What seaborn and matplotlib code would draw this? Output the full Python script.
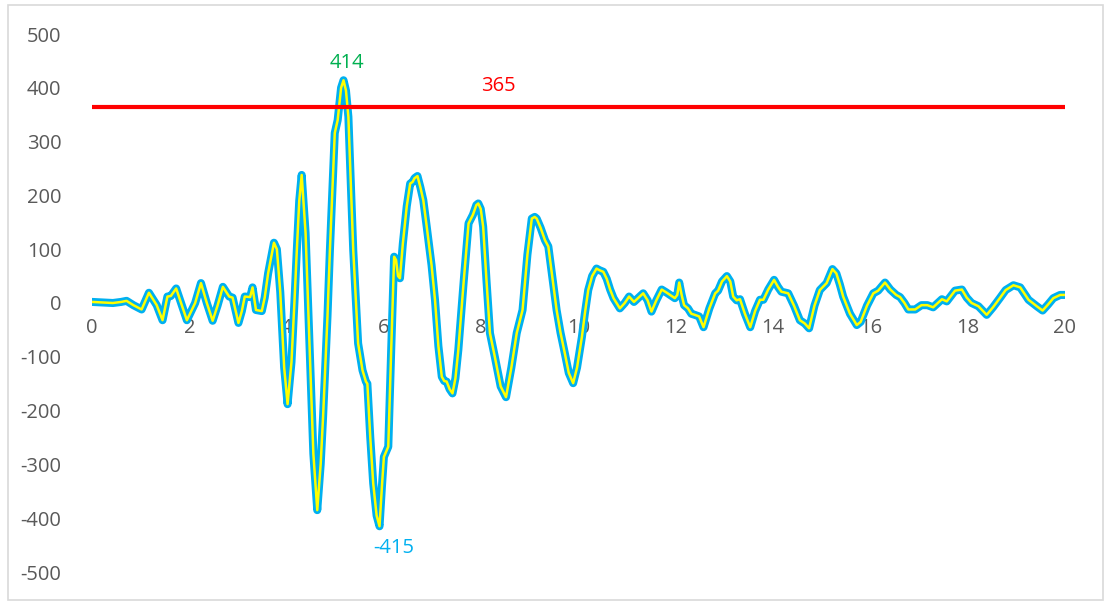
import matplotlib
matplotlib.use('Agg')
import matplotlib.pyplot as plt
import seaborn as sns
import pandas as pd
from matplotlib.patches import Rectangle

# time (s) and amplitude
t = [0.00, 0.43, 0.60, 0.71, 0.85, 1.02, 1.17, 1.33, 1.45, 1.55, 1.62, 1.73, 1.85, 1.95,
     2.12, 2.24, 2.36, 2.48, 2.58, 2.69, 2.82, 2.89, 3.01, 3.08, 3.14, 3.25, 3.30, 3.37,
     3.49, 3.55, 3.62, 3.74, 3.80, 3.87, 3.95, 4.02, 4.10, 4.16, 4.21, 4.26, 4.31, 4.39,
     4.47, 4.55, 4.63, 4.70, 4.75, 4.84, 4.89, 4.99, 5.05, 5.12, 5.17, 5.22, 5.27, 5.37,
     5.47, 5.56, 5.63, 5.66, 5.72, 5.78, 5.85, 5.91, 5.96, 6.00, 6.09, 6.15, 6.21, 6.25,
     6.29, 6.33, 6.39, 6.47, 6.54, 6.59, 6.63, 6.69, 6.75, 6.81, 6.88, 6.98, 7.05, 7.12,
     7.19, 7.24, 7.29, 7.35, 7.41, 7.47, 7.53, 7.64, 7.74, 7.83, 7.90, 7.94, 7.99, 8.04,
     8.11, 8.18, 8.28, 8.40, 8.51, 8.62, 8.73, 8.85, 8.95, 9.04, 9.10, 9.14, 9.22, 9.31,
     9.38, 9.46, 9.55, 9.63, 9.72, 9.80, 9.89, 9.97, 10.07, 10.13, 10.20, 10.28, 10.37,
     10.43, 10.51, 10.58, 10.65, 10.72, 10.85, 10.95, 11.04, 11.14, 11.33, 11.42, 11.50,
     11.60, 11.71, 11.80, 11.88, 11.98, 12.03, 12.07, 12.12, 12.17, 12.25, 12.32, 12.39,
     12.48, 12.57, 12.69, 12.81, 12.87, 12.95, 13.05, 13.12, 13.18, 13.25, 13.32, 13.42,
     13.53, 13.63, 13.73, 13.80, 13.90, 14.02, 14.10, 14.17, 14.31, 14.43, 14.55, 14.65,
     14.74, 14.85, 14.96, 15.10, 15.22, 15.30, 15.37, 15.44, 15.58, 15.72, 15.80, 15.93,
     16.06, 16.16, 16.30, 16.41, 16.53, 16.61, 16.70, 16.78, 16.92, 17.05, 17.17, 17.29,
     17.47, 17.57, 17.74, 17.88, 17.98, 18.08, 18.22, 18.39, 18.52, 18.66, 18.78, 18.94,
     19.08, 19.25, 19.42, 19.54, 19.65, 19.76, 19.90, 20.00]
acc = [2, 0, 2, 4, -4, -12, 19, -4, -32, 12, 13, 27, -5, -32,
       0, 37, 0, -33, -5, 30, 12, 10, -37, -15, 12, 11, 29, -13,
       -15, 10, 55, 112, 100, 20, -120, -188, -110, 0, 98, 190, 238, 130,
       -75, -280, -385, -300, -211, -25, 98, 316, 340, 400, 414, 395, 346, 98,
       -75, -125, -146, -150, -250, -335, -395, -415, -340, -286, -267, -87, 86, 80,
       50, 46, 111, 180, 222, 225, 232, 236, 215, 191, 142, 70, 6, -80,
       -137, -145, -146, -160, -168, -140, -87, 40, 148, 164, 182, 185, 175, 142,
       40, -56, -100, -155, -175, -120, -56, -13, 90, 157, 160, 157, 140, 117,
       105, 50, -13, -55, -94, -130, -149, -120, -63, -20, 24, 50, 64,
       61, 58, 45, 25, 9, -10, 0, 12, 2, 18, 5, -16,
       5, 25, 20, 15, 9, 15, 38, 15, -4, -10, -20, -22,
       -25, -45, -10, 18, 23, 40, 50, 40, 12, 5, 7, -20,
       -45, -15, 6, 6, 25, 43, 30, 21, 18, -5, -32, -38,
       -47, -5, 24, 37, 63, 55, 35, 12, -20, -41, -35, -5,
       18, 23, 38, 25, 15, 11, 0, -12, -12, -4, -4, -8,
       7, 3, 23, 25, 10, 0, -6, -22, -8, 9, 24, 33,
       29, 6, -6, -14, -3, 9, 15, 15]

limit_value = 365
peak_label = '414'
trough_label = '-415'
x_ticks = [0, 2, 4, 6, 8, 10, 12, 14, 16, 18, 20]
y_ticks = [-500, -400, -300, -200, -100, 0, 100, 200, 300, 400, 500]

df = pd.DataFrame({'t': t, 'acc': acc})
limit = pd.DataFrame({'t': [0, 20], 'acc': [limit_value, limit_value]})

sns.set_style('white')
plt.rcParams['font.family'] = ['Open Sans', 'DejaVu Sans']
plt.rcParams['axes.unicode_minus'] = False

fig = plt.figure(figsize=(11.05, 6.02), dpi=100)
ax = fig.add_axes([92 / 1105, 30 / 602, 973 / 1105, 538 / 602])

sns.lineplot(data=df, x='t', y='acc', color='#00B0F0', lw=5.8, ax=ax, sort=False,
             solid_joinstyle='round', solid_capstyle='round')
sns.lineplot(data=df, x='t', y='acc', color='#FFFF00', lw=1.8, ax=ax, sort=False,
             solid_joinstyle='round')
sns.lineplot(data=limit, x='t', y='acc', color='#FF0000', lw=3, ax=ax)

ax.text(5.23, 446, peak_label, color='#00B050', fontsize=14.5, ha='center', va='center')
ax.text(8.35, 403, str(limit_value), color='#FF0000', fontsize=14.5, ha='center', va='center')
ax.text(6.2, -455, trough_label, color='#00B0F0', fontsize=14.5, ha='center', va='center')

ax.set_xlim(0, 20)
ax.set_ylim(-500, 500)
ax.set_xticks(x_ticks)
ax.set_yticks(y_ticks)
ax.set_xlabel('')
ax.set_ylabel('')
for s in ax.spines.values():
    s.set_visible(False)
ax.spines['bottom'].set_position(('data', 0))
ax.tick_params(axis='both', length=0, labelsize=14.5, labelcolor='#595959')
ax.tick_params(axis='y', pad=22)
ax.tick_params(axis='x', pad=11)
ax.patch.set_alpha(0)

fig.patches.append(Rectangle((8 / 1105, 2 / 602), 1095 / 1105, 595 / 602, transform=fig.transFigure,
                             fill=False, edgecolor='#D9D9D9', lw=1.2))

plt.savefig('out.png', dpi=100)
